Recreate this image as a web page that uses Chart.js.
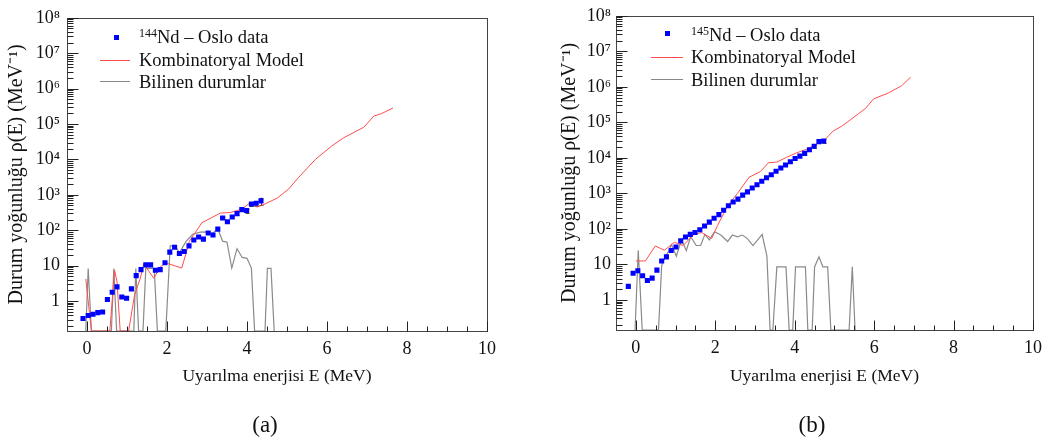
<!DOCTYPE html>
<html>
<head>
<meta charset="utf-8">
<script src="https://cdn.jsdelivr.net/npm/chart.js@4.4.1/dist/chart.umd.min.js"></script>
<style>
  body { margin: 0; background: #fff; width: 1049px; height: 446px; overflow: hidden; position: relative;
         font-family: "Liberation Serif", serif; color: #111; }
  canvas { position: absolute; top: 0; }
  #chartA { left: 0; }
  #chartB { left: 525px; }
  .row { position: absolute; font-size: 18.5px; line-height: 20px; white-space: nowrap; }
  .row sup { font-size: 12px; vertical-align: 6px; line-height: 0; }
  .dot { position: absolute; width: 5px; height: 5px; background: #0000ff; }
  .seg { position: absolute; height: 1px; }
  .cap { position: absolute; font-size: 23px; line-height: 26px; transform: translateX(-50%); }
</style>
</head>
<body>
<canvas id="chartA" width="524" height="446"></canvas>
<canvas id="chartB" width="524" height="446"></canvas>

<!-- legend (a) -->
<div class="dot" style="left:114px; top:35px;"></div>
<div class="row" style="left:139px; top:27px;"><sup>144</sup>Nd – Oslo data</div>
<div class="seg" style="left:100px; top:60px; width:30px; background:#ff4d4d;"></div>
<div class="row" style="left:139px; top:50px;">Kombinatoryal Model</div>
<div class="seg" style="left:100px; top:81px; width:30px; background:#888;"></div>
<div class="row" style="left:139px; top:72px;">Bilinen durumlar</div>

<!-- legend (b) -->
<div class="dot" style="left:665px; top:31px;"></div>
<div class="row" style="left:691px; top:25px;"><sup>145</sup>Nd – Oslo data</div>
<div class="seg" style="left:651px; top:57px; width:32px; background:#ff4d4d;"></div>
<div class="row" style="left:691px; top:47px;">Kombinatoryal Model</div>
<div class="seg" style="left:651px; top:79px; width:32px; background:#888;"></div>
<div class="row" style="left:691px; top:70px;">Bilinen durumlar</div>

<div class="cap" style="left:265px; top:412px;">(a)</div>
<div class="cap" style="left:812px; top:412px;">(b)</div>

<script>
// axis range and ticks
const eMin = -0.5, eMax = 10;
const rhoMin = 0.142, rhoMax = 1e8;
const xTickValues = [0, 2, 4, 6, 8, 10];
const yTickValues = [1, 10, 1e2, 1e3, 1e4, 1e5, 1e6, 1e7, 1e8];
const yTickLabels = ['1', '10', '10²', '10³', '10⁴', '10⁵', '10⁶', '10⁷', '10⁸'];

// (a) 144Nd
const ndE144 = [-0.10, 0.03, 0.15, 0.27, 0.39, 0.51, 0.63, 0.75, 0.87, 0.99, 1.11, 1.23, 1.35, 1.47, 1.59, 1.71, 1.83, 1.95, 2.07, 2.19,
                2.31, 2.43, 2.55, 2.67, 2.79, 2.91, 3.03, 3.15, 3.27, 3.39, 3.51, 3.63, 3.75, 3.87, 3.99, 4.11, 4.23, 4.35];
const ndRho144 = [0.32, 0.39, 0.42, 0.47, 0.49, 1.1, 1.76, 2.5, 1.29, 1.2, 2.2, 5.2, 7.7, 10.5, 10.5, 7.4, 7.7, 12, 24, 33,
                  22, 25, 36, 53, 64, 56, 83, 73, 107, 222, 173, 237, 293, 382, 360, 550, 575, 675];
const ndErr144 = [0, 0, 0, 0, 0, 0, 0, 0, 0, 0, 0, 0, 0, 0, 0, 0, 0, 0, 0, 0,
                  0, 0, 0, 0, 0, 0, 0, 0, 0, 15, 14, 20, 25, 40, 45, 70, 90, 160];
const modelE144 = [-0.03, 0.11, 0.57, 0.69, 0.75, 0.83, 1.04, 1.19, 1.33, 1.42, 1.67, 1.83, 1.96, 2.37, 2.56, 2.67, 2.87, 3.33, 3.58,
                   3.87, 4.08, 4.25, 4.37, 4.75, 5.04, 5.29, 5.71, 6.12, 6.42, 6.92, 7.17, 7.37, 7.65];
const modelRho144 = [4.2, 0, 0, 7.4, 3.5, 0, 0, 1.5, 4.3, 11, 4.4, 9.1, 12, 8.5, 49, 74, 162, 303, 316,
                     390, 600, 450, 500, 800, 1450, 3100, 10000, 24000, 41000, 81000, 167000, 198000, 283000];
const levelsE144 = [-0.03, 0.03, 0.11, 0.61, 0.67, 0.74, 1.17, 1.22, 1.29, 1.40, 1.47, 1.68, 1.76,
                    1.97, 2.08, 2.2, 2.31, 2.48, 2.65, 2.83, 3.0, 3.13, 3.27, 3.39, 3.5, 3.62, 3.75, 3.88, 4.0, 4.11, 4.19,
                    4.45, 4.51, 4.6, 4.68];
const levelsRho144 = [0, 8.3, 0, 0, 8.3, 0, 0, 8.3, 0, 0, 8.3, 8.3, 0,
                      0, 36, 37, 23, 49, 78, 88, 90, 80, 110, 49, 46, 8.5, 30, 17, 16, 8.5, 0,
                      0, 8.3, 8.3, 0];

// (b) 145Nd
const ndE145 = [-0.19, -0.07, 0.05, 0.17, 0.29, 0.41, 0.53, 0.65, 0.77, 0.89, 1.01, 1.13, 1.25, 1.37, 1.49, 1.61, 1.73, 1.85, 1.97, 2.09,
                2.21, 2.33, 2.45, 2.57, 2.69, 2.81, 2.93, 3.05, 3.17, 3.29, 3.41, 3.53, 3.65, 3.77, 3.89, 4.01, 4.13, 4.25, 4.37, 4.49,
                4.61, 4.73];
const ndRho145 = [2.4, 5.6, 6.6, 4.8, 3.5, 4.1, 6.9, 12.5, 16.3, 24.5, 31, 46, 59, 70, 79, 94, 121, 155, 200, 252,
                  336, 447, 574, 690, 890, 1100, 1410, 1740, 2190, 2760, 3330, 4200, 5200, 6300, 7800, 9600, 11200, 13400, 16900, 21300,
                  28600, 29700];
const ndErr145 = [0, 0, 0, 0, 0, 0, 0, 0, 0, 0, 0, 0, 0, 0, 0, 0, 0, 0, 0, 0,
                  0, 0, 0, 0, 0, 0, 0, 0, 0, 0, 0, 0, 0, 0, 0, 0, 0, 0, 1500, 2000,
                  3000, 3500];
const modelE145 = [0.0, 0.24, 0.49, 0.72, 0.97, 1.19, 1.44, 1.65, 1.91, 2.06, 2.31, 2.56, 2.85, 3.13, 3.34, 3.55, 3.8, 4.04,
                   4.29, 4.54, 4.75, 4.96, 5.2, 5.78, 5.99, 6.36, 6.69, 6.92];
const modelRho145 = [12.5, 12.5, 33, 25, 42, 34, 67, 79, 54, 126, 447, 1000, 2840, 4060, 7300, 7600, 10400, 13700,
                     17300, 24000, 31600, 56000, 80000, 245000, 460000, 670000, 1070000, 1870000];
const levelsE145 = [-0.02, 0.06, 0.16,
                    0.57, 0.65, 0.69, 0.82, 0.9, 1.02, 1.15, 1.27, 1.38, 1.52, 1.63, 1.74, 1.85, 1.98, 2.14, 2.31, 2.43, 2.56, 2.68, 2.8,
                    2.95, 3.18, 3.3, 3.38,
                    3.45, 3.55, 3.78, 3.86, 3.95, 4.02, 4.27, 4.33,
                    4.44, 4.5, 4.61, 4.71, 4.83, 4.91, 5.37, 5.45, 5.52];
const levelsRho145 = [0, 25, 0,
                      0, 9, 12.5, 23, 36, 17, 49, 24.5, 60, 34, 34, 70, 49, 83, 67, 44, 67, 60, 67, 54,
                      34, 70, 17, 0,
                      0, 8.5, 8.5, 0, 0, 8.5, 8.5, 0,
                      0, 8.5, 16.4, 8.5, 8.5, 0, 0, 8.5, 0];

const serif = 'Liberation Serif';

// zero counts sit on the bottom of the log axis, like ROOT draws them
function pts(xs, ys) {
    return xs.map((x, i) => ({x: x, y: ys[i] > 0 ? ys[i] : rhoMin}));
}

// vertical error bars for the Oslo points
const errorBars = {
    id: 'errorBars',
    beforeDatasetsDraw(chart) {
        const {ctx, scales: {x, y}} = chart;
        const ds = chart.data.datasets[0];
        ctx.save();
        ctx.strokeStyle = '#444';
        ctx.lineWidth = 1;
        ctx.beginPath();
        ds.data.forEach((p, i) => {
            const err = ds.errors[i];
            if (!err) return;
            const px = Math.round(x.getPixelForValue(p.x)) + 0.5;
            const top = y.getPixelForValue(p.y + err);
            const bot = y.getPixelForValue(p.y - err);
            ctx.moveTo(px, top); ctx.lineTo(px, bot);
            ctx.moveTo(px - 2, Math.round(top) + 0.5); ctx.lineTo(px + 2, Math.round(top) + 0.5);
            ctx.moveTo(px - 2, Math.round(bot) + 0.5); ctx.lineTo(px + 2, Math.round(bot) + 0.5);
        });
        ctx.stroke();
        ctx.restore();
    }
};

// frame and inward ticks, drawn like the original
const frameTicks = {
    id: 'frameTicks',
    afterDatasetsDraw(chart) {
        const {ctx, chartArea: a, scales: {x, y}} = chart;
        const L = Math.round(a.left) + 0.5, R = Math.round(a.right) + 0.5;
        const T = Math.round(a.top) + 0.5, B = Math.round(a.bottom) + 0.5;
        ctx.save();
        ctx.lineWidth = 1;
        ctx.strokeStyle = '#444';
        ctx.strokeRect(L, T, R - L, B - T);
        ctx.strokeStyle = '#222';
        ctx.beginPath();
        for (let k = 1; k <= 21; k++) {
            const v = eMin + k * 0.5;
            const px = Math.round(x.getPixelForValue(v)) + 0.5;
            const len = v % 2 === 0 ? 10 : 5;
            ctx.moveTo(px, B);
            ctx.lineTo(px, B - len);
        }
        for (let e = -1; e <= 8; e++) {
            for (let m = 1; m <= 9; m++) {
                const v = m * Math.pow(10, e);
                if (v < y.min || v > y.max * 1.001) continue;
                const py = Math.round(y.getPixelForValue(v)) + 0.5;
                const len = m === 1 ? 11 : 6;
                ctx.moveTo(L, py);
                ctx.lineTo(L + len, py);
            }
        }
        ctx.stroke();
        ctx.restore();
    }
};

function makeChart(id, d, g) {
    return new Chart(document.getElementById(id), {
        type: 'scatter',
        data: {
            datasets: [
                {data: pts(d.ndE, d.ndRho), errors: d.ndErr, pointStyle: 'rect', pointRadius: 3.6,
                 backgroundColor: '#0000ff', borderWidth: 0, showLine: false, order: 1},
                {data: pts(d.modelE, d.modelRho), showLine: true, borderColor: '#ff4d4d', borderWidth: 1,
                 pointRadius: 0, order: 2},
                {data: pts(d.levE, d.levRho), showLine: true, borderColor: '#8a8a8a', borderWidth: 1.2,
                 pointRadius: 0, order: 3}
            ]
        },
        options: {
            responsive: false,
            animation: false,
            devicePixelRatio: 1,
            layout: {padding: {top: g.top, right: g.right, bottom: g.bottom, left: 0}},
            plugins: {legend: {display: false}, tooltip: {enabled: false}},
            scales: {
                x: {
                    type: 'linear', min: eMin, max: eMax,
                    grid: {display: false, drawTicks: false},
                    border: {display: false},
                    afterBuildTicks: s => { s.ticks = xTickValues.map(v => ({value: v})); },
                    afterFit: s => { s.height = g.xh; },
                    ticks: {padding: 7, color: '#111', maxRotation: 0, autoSkip: false,
                            font: {family: serif, size: 18}},
                    title: {display: true, text: 'Uyarılma enerjisi E (MeV)', color: '#111', padding: 0,
                            font: {family: serif, size: 17.5}}
                },
                y: {
                    type: 'logarithmic', min: rhoMin, max: rhoMax,
                    grid: {display: false, drawTicks: false},
                    border: {display: false},
                    afterBuildTicks: s => { s.ticks = yTickValues.map(v => ({value: v})); },
                    afterFit: s => { s.width = g.yw; },
                    ticks: {padding: g.ypad, color: '#111', autoSkip: false,
                            font: {family: serif, size: 18},
                            callback: v => yTickLabels[yTickValues.indexOf(v)]},
                    title: {display: true, text: 'Durum yoğunluğu ρ(E) (MeV⁻¹)', color: '#111',
                            padding: {top: g.ytp, bottom: 0}, font: {family: serif, size: 20}}
                }
            }
        },
        plugins: [errorBars, frameTicks]
    });
}

makeChart('chartA',
    {ndE: ndE144, ndRho: ndRho144, ndErr: ndErr144, modelE: modelE144, modelRho: modelRho144,
     levE: levelsE144, levRho: levelsRho144},
    {top: 8, right: 37, bottom: 59, xh: 56, yw: 67, ypad: 7, ytp: 5});

makeChart('chartB',
    {ndE: ndE145, ndRho: ndRho145, ndErr: ndErr145, modelE: modelE145, modelRho: modelRho145,
     levE: levelsE145, levRho: levelsRho145},
    {top: 7, right: 9, bottom: 59, xh: 57, yw: 91, ypad: 5, ytp: 33});
</script>
</body>
</html>
